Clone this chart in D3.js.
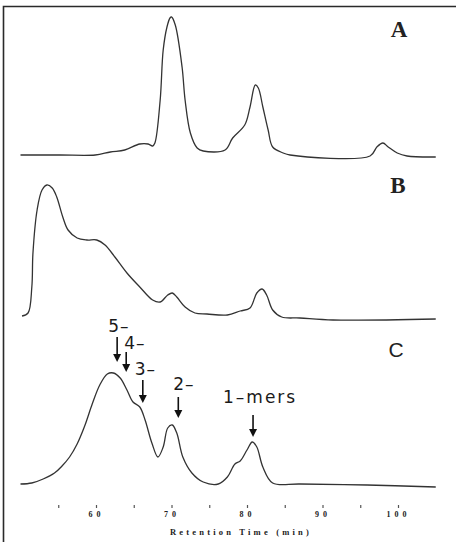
<!DOCTYPE html>
<html>
<head>
<meta charset="utf-8">
<script src="https://cdn.jsdelivr.net/npm/d3@7"></script>
<style>
  html, body { margin: 0; padding: 0; background: #fff; }
  svg { display: block; }
</style>
</head>
<body>
<svg id="chart" width="456" height="542"></svg>
<script>
// ---------- DATA (retention time in min, detector response in arbitrary units) ----------
const timesA = [50, 55.2, 59.9, 61.9, 63.8, 65.8, 66.9, 67.5, 67.8, 68.5, 68.9, 69.4, 69.8, 70.0, 70.5, 71.4, 71.8, 72.5, 73.4, 74.2, 77.1, 78.1, 79.7, 80.4, 81.1, 81.5, 82.1, 82.8, 83.4, 84.8, 85.7, 96.3, 97.2, 98.0, 98.7, 99.9, 101.2, 105];
const valuesA = [2, 2, 2, 5, 7, 13, 13, 11, 14, 57, 107, 130, 139, 140, 132, 90, 57, 24, 9, 6, 7, 19, 32, 50, 72, 69, 50, 27, 10, 4, 2, 1, 10, 14, 10, 4, 1, 0];

const timesB = [50.2, 51.0, 51.5, 51.65, 52.2, 52.85, 53.5, 54.2, 54.8, 55.6, 56.3, 57.5, 58.8, 60.1, 61.2, 62.5, 64.1, 65.8, 67.5, 68.5, 69.5, 70.1, 70.7, 71.8, 73.1, 74.7, 77.4, 79.1, 80.4, 81.3, 82.0, 82.6, 83.4, 84.6, 87.0, 91.4, 105];
const valuesB = [4, 7, 33, 67, 110, 130, 135, 132, 123, 103, 90, 82, 80, 80, 75, 63, 47, 33, 20, 18, 25, 27, 23, 13, 7, 6, 5, 9, 12, 27, 31, 25, 10, 3, 2, 0, 1];

const timesC = [50, 51.5, 53, 54.5, 55.5, 56.5, 57.5, 58.5, 59.5, 60.5, 61.5, 62.3, 63.2, 64.1, 64.9, 65.8, 66.5, 67.4, 68.2, 68.9, 69.5, 70.1, 70.7, 71.5, 72.7, 74.2, 76.2, 77.4, 78.4, 79.1, 80.0, 80.7, 81.3, 82.1, 83.4, 87.0, 95.9, 105];
const valuesC = [4, 5, 9, 15, 22, 31, 44, 62, 84, 103, 114, 115, 110, 98, 86, 81, 68, 45, 31, 41, 60, 63, 55, 31, 15, 6, 4, 11, 24, 27, 38, 46, 41, 21, 5, 4, 3, 1];

const panelNames = ["A", "B", "C"];

const peakLabels = ["5\u2013", "4\u2013", "3\u2013", "2\u2013", "1\u2013mers"];
const peakTimes = [62.8, 64.0, 66.2, 70.9, 80.8];
const peakArrowTips = [126, 116, 85, 70, 51];

const tickValues = [55, 60, 65, 70, 75, 80, 85, 90, 95, 100];
const tickLabels = ["", "60", "", "70", "", "80", "", "90", "", "100"];
const axisTitle = "Retention Time (min)";

// ---------- LAYOUT ----------
const svg = d3.select("#chart");
const x = d3.scaleLinear().domain([50, 105]).range([20.5, 435.75]);
const panelBase = [157, 320, 488];
const panelHeight = 140;
const panelFont = [
  { fam: "'Liberation Serif', 'Times New Roman', serif", w: "bold", size: 23, x: 399, y: 37 },
  { fam: "'Liberation Serif', 'Times New Roman', serif", w: "bold", size: 23, x: 398, y: 193 },
  { fam: "'Liberation Sans', Arial, sans-serif", w: "normal", size: 21, x: 396, y: 357 }
];
const annLayout = [
  { dx: -9, textDy: -30, len: 25, ls: 1 },
  { dx: -2, textDy: -23, len: 20, ls: 1 },
  { dx: -8, textDy: -28, len: 23, ls: 1 },
  { dx: -5, textDy: -28, len: 21, ls: 1 },
  { dx: -30, textDy: -34, len: 22, ls: 2 }
];

// frame (left and top rules)
svg.append("path")
  .attr("d", "M3.5,542 L3.5,6.5 L456,6.5")
  .attr("fill", "none")
  .attr("stroke", "#2a2a2a")
  .attr("stroke-width", 1.6);

const series = [
  d3.zip(timesA, valuesA),
  d3.zip(timesB, valuesB),
  d3.zip(timesC, valuesC)
];

const yScales = panelBase.map(b => d3.scaleLinear().domain([0, panelHeight]).range([b, b - panelHeight]));

series.forEach((pts, i) => {
  const y = yScales[i];
  const line = d3.line()
    .x(d => x(d[0]))
    .y(d => y(d[1]))
    .curve(d3.curveCatmullRom.alpha(0.5));
  svg.append("path")
    .datum(pts)
    .attr("d", line)
    .attr("fill", "none")
    .attr("stroke", "#333")
    .attr("stroke-width", 1.3)
    .attr("stroke-linejoin", "round");

  const pf = panelFont[i];
  svg.append("text")
    .attr("x", pf.x)
    .attr("y", pf.y)
    .attr("text-anchor", "middle")
    .attr("font-family", pf.fam)
    .attr("font-weight", pf.w)
    .attr("font-size", pf.size)
    .attr("fill", "#222")
    .text(panelNames[i]);
});

// peak annotations in panel C
const yC = yScales[2];
peakLabels.forEach((lab, i) => {
  const ax = x(peakTimes[i]);
  const tip = yC(peakArrowTips[i]);
  const L = annLayout[i];
  svg.append("line")
    .attr("x1", ax).attr("x2", ax)
    .attr("y1", tip - L.len).attr("y2", tip - 6)
    .attr("stroke", "#111").attr("stroke-width", 1.6);
  svg.append("path")
    .attr("d", `M${ax - 4},${tip - 8} L${ax + 4},${tip - 8} L${ax},${tip} Z`)
    .attr("fill", "#111");
  svg.append("text")
    .attr("x", ax + L.dx)
    .attr("y", tip + L.textDy)
    .attr("font-family", "'DejaVu Sans', 'Liberation Sans', sans-serif")
    .attr("font-size", 17)
    .attr("letter-spacing", L.ls)
    .attr("fill", "#1a1a1a")
    .text(lab);
});

// x axis (ticks only, no domain line)
const axis = d3.axisBottom(x)
  .tickValues(tickValues)
  .tickFormat((d, i) => tickLabels[i])
  .tickSize(3)
  .tickPadding(3);
const gAxis = svg.append("g")
  .attr("transform", "translate(0,505)")
  .call(axis);
gAxis.select(".domain").remove();
gAxis.selectAll(".tick line").attr("stroke", "#555").attr("stroke-width", 1.2);
gAxis.selectAll(".tick text")
  .attr("font-family", "'Liberation Serif', 'Times New Roman', serif")
  .attr("font-weight", "bold")
  .attr("font-size", 8)
  .attr("letter-spacing", 4)
  .attr("fill", "#222");

svg.append("text")
  .attr("x", 241)
  .attr("y", 535)
  .attr("text-anchor", "middle")
  .attr("font-family", "'Liberation Serif', 'Times New Roman', serif")
  .attr("font-weight", "bold")
  .attr("font-size", 8.5)
  .attr("letter-spacing", 3.2)
  .attr("fill", "#222")
  .text(axisTitle);
</script>
</body>
</html>
